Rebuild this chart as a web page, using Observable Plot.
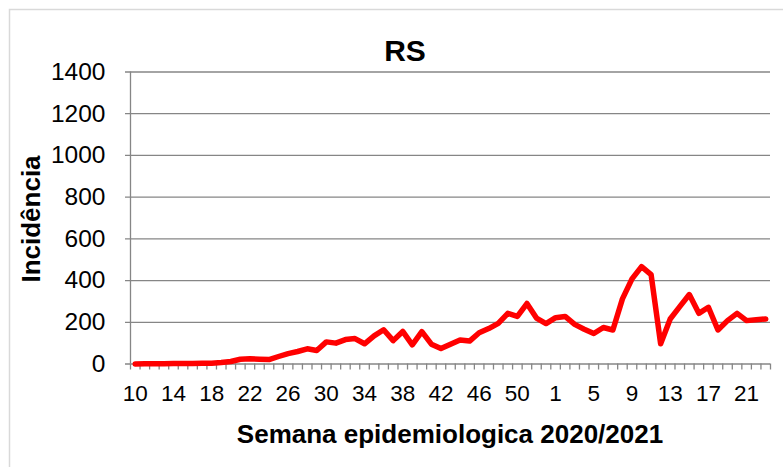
<!DOCTYPE html>
<html>
<head>
<meta charset="utf-8">
<script src="https://cdn.jsdelivr.net/npm/d3@7"></script>
<script src="https://cdn.jsdelivr.net/npm/@observablehq/plot@0.6"></script>
<style>
  html, body { margin: 0; padding: 0; background: #fff; }
  #chart svg { font-family: "Liberation Sans", Arial, sans-serif; }
</style>
</head>
<body>
<div id="chart"></div>
<script>
const title = "RS";
const xTitle = "Semana epidemiologica 2020/2021";
const yTitle = "Incidência";

const weeks2020 = [10,11,12,13,14,15,16,17,18,19,20,21,22,23,24,25,26,27,28,29,30,31,32,33,34,35,36,37,38,39,40,41,42,43,44,45,46,47,48,49,50,51,52,53];
const values2020 = [0,1,1,1,2,2,2,3,4,7,12,23,25,23,21,36,50,60,73,65,106,100,117,122,97,135,164,112,156,92,155,95,74,95,115,110,150,170,195,243,228,290,220,194];
const weeks2021 = [1,2,3,4,5,6,7,8,9,10,11,12,13,14,15,16,17,18,19,20,21,22,23];
const values2021 = [222,228,190,167,146,175,163,312,408,467,429,97,216,275,333,243,272,163,208,243,208,212,216];
const yTicks = [0,200,400,600,800,1000,1200,1400];

const data = [
  ...weeks2020.map((w, k) => ({week: w, value: values2020[k]})),
  ...weeks2021.map((w, k) => ({week: w, value: values2021[k]}))
].map((d, i) => ({...d, i}));
const n = data.length;
const boundaries = d3.range(-0.5, n, 1);
const labelIdx = data.filter(d => d.i % 4 === 0).map(d => d.i);

const gray = "#868686";

const chart = Plot.plot({
  width: 783,
  height: 467,
  marginLeft: 130,
  marginRight: 13,
  marginTop: 71.5,
  marginBottom: 103.5,
  style: {fontFamily: "'Liberation Sans', Arial, sans-serif", background: "#fff"},
  x: {domain: [-0.5, n - 0.5], axis: null},
  y: {domain: [0, 1400], axis: null},
  marks: [
    Plot.ruleY(yTicks, {stroke: gray, strokeWidth: 1.3, insetLeft: -5}),
    Plot.ruleX([-0.5], {stroke: gray, strokeWidth: 1.3}),
    Plot.axisX(boundaries, {tickFormat: () => "", tickSize: 6, stroke: gray, strokeWidth: 1.3, strokeOpacity: 1, label: null}),
    Plot.axisX(labelIdx, {tickSize: 0, tickPadding: 21, tickFormat: i => String(data[i].week), fontSize: 22.5, fill: "#000", label: null}),
    Plot.axisY(yTicks, {tickSize: 0, tickPadding: 25, tickFormat: d => String(d), fontSize: 24.5, fill: "#000", label: null}),
    Plot.line(data, {x: "i", y: "value", stroke: "#ff0000", strokeWidth: 5.5, strokeLinejoin: "round"})
  ]
});

const svg = d3.select(chart);
svg.insert("rect", ":first-child")
  .attr("x", 9.5).attr("y", 9.5).attr("width", 800).attr("height", 500)
  .attr("fill", "none").attr("stroke", "#d9d9d9").attr("stroke-width", 1.5);
svg.append("text").text(title)
  .attr("x", 405).attr("y", 61).attr("text-anchor", "middle")
  .attr("font-size", 30).attr("font-weight", "bold").attr("fill", "#000");
svg.append("text").text(xTitle)
  .attr("x", 450).attr("y", 443).attr("text-anchor", "middle")
  .attr("font-size", 26).attr("font-weight", "bold").attr("fill", "#000");
svg.append("text").text(yTitle)
  .attr("transform", "translate(40,219) rotate(-90)").attr("text-anchor", "middle")
  .attr("font-size", 26).attr("font-weight", "bold").attr("fill", "#000");

document.getElementById("chart").appendChild(chart);
</script>
</body>
</html>
